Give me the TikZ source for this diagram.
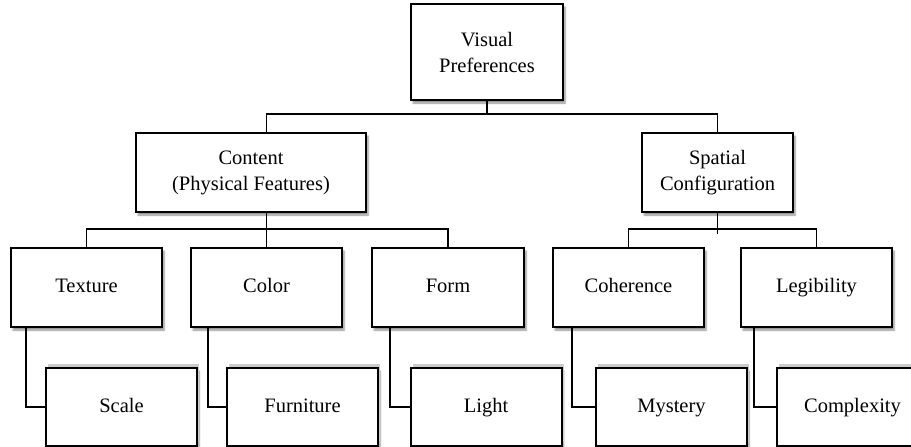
\documentclass[tikz,border=0pt]{standalone}
\usepackage{fontspec}
\setmainfont{Liberation Serif}
\usetikzlibrary{positioning}
\usetikzlibrary{shadows}
\usetikzlibrary{shadows.blur}

\begin{document}
\begin{tikzpicture}[x=1pt, y=1pt,
    every node/.style={font=\fontsize{20.5}{26}\selectfont},
    box/.style={rectangle, draw, fill=white, line width=2pt, align=center,
        minimum width=151pt, minimum height=79pt, inner sep=2pt,
        blur shadow={shadow xshift=2pt, shadow yshift=-3pt, shadow opacity=45, shadow blur steps=6}},
    word/.style={box, text height=14pt, text depth=4pt},
    leaf/.style={word, minimum height=78pt,
        general shadow={fill=gray!40, shadow yshift=4pt}},
    link/.style={line width=1.2pt}]
    \useasboundingbox (0,0) rectangle (911,-447);

    \node[box, minimum width=152pt, minimum height=96pt] (vis) at (487,-52) {Visual\\Preferences};
    \node[box, minimum width=230pt] (content) [below left=31pt and 43pt of vis] {Content\\(Physical Features)};
    \node[box] (spatial) [below right=31pt and 77pt of vis] {Spatial\\Configuration};

    \node[word] (texture) at (86.5,-287.5) {Texture};
    \node[word] (color) [right=27pt of texture] {Color};
    \node[word, minimum width=152pt] (form) [right=28pt of color] {Form};
    \node[word] (coherence) [right=27pt of form] {Coherence};
    \node[word] (legibility) [right=35pt of coherence] {Legibility};

    \node[leaf] (scale) [below=39pt of texture, xshift=35pt] {Scale};
    \node[leaf] (furniture) [below=39pt of color, xshift=36pt] {Furniture};
    \node[leaf] (light) [below=39pt of form, xshift=38pt] {Light};
    \node[leaf] (mystery) [below=39pt of coherence, xshift=43pt] {Mystery};
    \node[leaf] (complexity) [below=39pt of legibility, xshift=36pt] {Complexity};

    % top level
    \draw[link] (vis.south) -- ++(0,-13) -| (content.north -| color.north);
    \draw[link] (vis.south) -- ++(0,-13) -| (spatial.north);

    % second level
    \draw[link] (content.south -| color.north) -- (color.north);
    \draw[link] (texture.north) -- ++(0,18) -| (form.north);
    \draw[link] (spatial.south) -- ++(0,-21);
    \draw[link] (coherence.north) -- ++(0,18) -| (legibility.north);

    % third level
    \draw[link] ([xshift=16pt]texture.south west) |- (scale.west);
    \draw[link] ([xshift=18pt]color.south west) |- (furniture.west);
    \draw[link] ([xshift=19pt]form.south west) |- (light.west);
    \draw[link] ([xshift=20pt]coherence.south west) |- (mystery.west);
    \draw[link] ([xshift=14pt]legibility.south west) |- (complexity.west);
\end{tikzpicture}
\end{document}
